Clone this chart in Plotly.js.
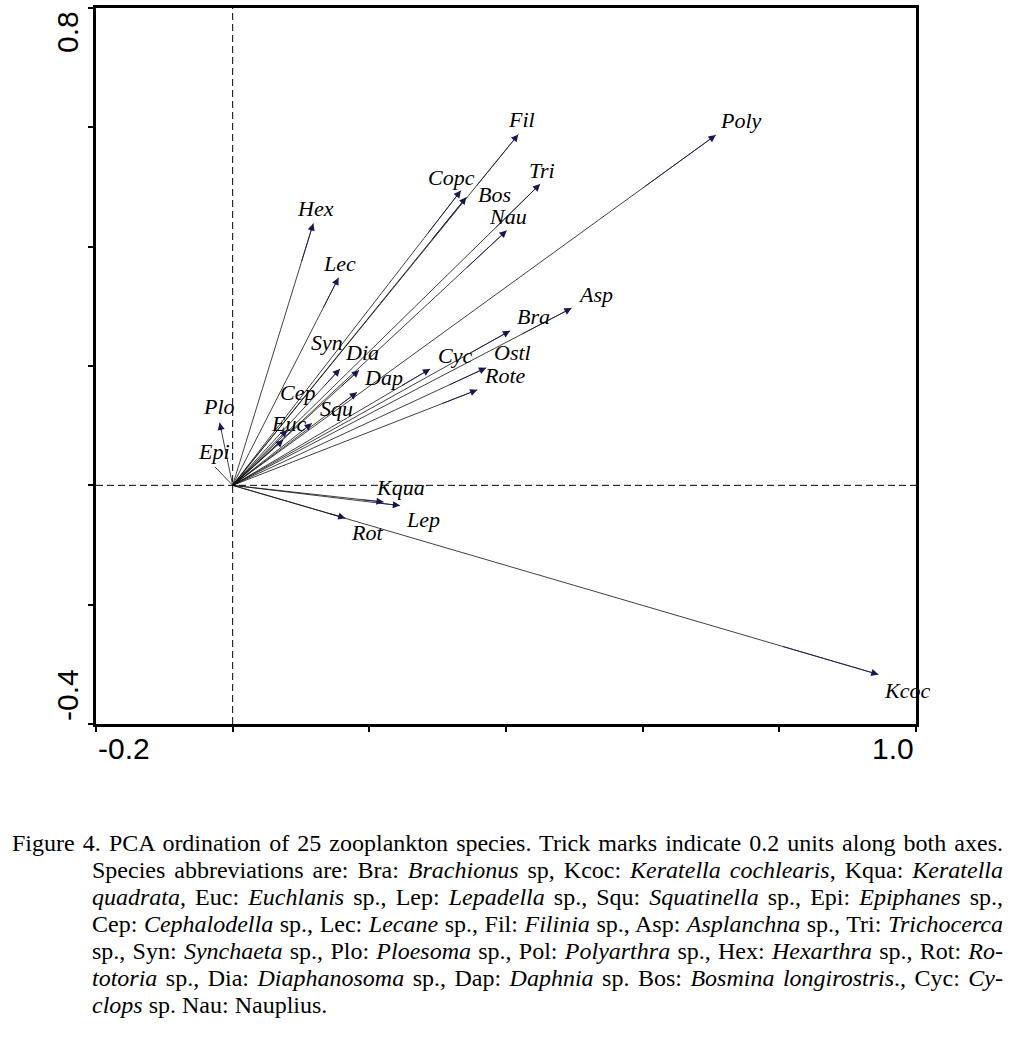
<!DOCTYPE html>
<html>
<head>
<meta charset="utf-8">
<script src="https://cdn.plot.ly/plotly-3.0.1.min.js"></script>
<style>
  html, body { margin: 0; padding: 0; background: #fff; }
  #chart { position: absolute; left: 0; top: 0; width: 1032px; height: 800px; }
  #caption { position: absolute; left: 12px; top: 830px; width: 991px;
    font-family: "Liberation Serif", "Times New Roman", serif; font-size: 24px; line-height: 27px; color: #000; }
  #caption div { text-align: justify; text-align-last: justify; white-space: nowrap; }
  #caption div.ind { padding-left: 80px; }
  #caption div.last { text-align-last: left; }
</style>
</head>
<body>
<div id="chart"></div>
<div id="caption">
  <div>Figure 4. PCA ordination of 25 zooplankton species. Trick marks indicate 0.2 units along both axes.</div>
  <div class="ind">Species abbreviations are: Bra: <i>Brachionus</i> sp, Kcoc: <i>Keratella cochlearis</i>, Kqua: <i>Keratella</i></div>
  <div class="ind"><i>quadrata</i>, Euc: <i>Euchlanis</i> sp., Lep: <i>Lepadella</i> sp., Squ: <i>Squatinella</i> sp., Epi: <i>Epiphanes</i> sp.,</div>
  <div class="ind">Cep: <i>Cephalodella</i> sp., Lec: <i>Lecane</i> sp., Fil: <i>Filinia</i> sp., Asp: <i>Asplanchna</i> sp., Tri: <i>Trichocerca</i></div>
  <div class="ind">sp., Syn: <i>Synchaeta</i> sp., Plo: <i>Ploesoma</i> sp., Pol: <i>Polyarthra</i> sp., Hex: <i>Hexarthra</i> sp., Rot: <i>Ro-</i></div>
  <div class="ind"><i>totoria</i> sp., Dia: <i>Diaphanosoma</i> sp., Dap: <i>Daphnia</i> sp. Bos: <i>Bosmina longirostris</i>., Cyc: <i>Cy-</i></div>
  <div class="ind last"><i>clops</i> sp. Nau: Nauplius.</div>
</div>
<script>
// ---- data (PCA loadings) ----
const species = ['Fil','Copc','Bos','Tri','Nau','Poly','Hex','Lec','Syn','Dia','Dap','Squ','Cep','Euc','Plo','Epi','Cyc','Bra','Asp','Ostl','Rote','Kqua','Lep','Rot','Kcoc'];
const axis1 = [0.418,0.334,0.342,0.450,0.401,0.707,0.118,0.155,0.157,0.185,0.182,0.116,0.080,0.074,-0.019,-0.026,0.289,0.406,0.496,0.371,0.358,0.221,0.245,0.165,0.945];
const axis2 = [0.588,0.494,0.483,0.505,0.427,0.587,0.439,0.348,0.195,0.193,0.156,0.104,0.093,0.076,0.105,0.031,0.195,0.259,0.297,0.197,0.160,-0.028,-0.034,-0.055,-0.317];
const xRange = [-0.2, 1.0];
const yRange = [-0.4, 0.8];
const tickStep = 0.2;
const xEndLabels = ['-0.2', '1.0'];
const yEndLabels = ['-0.4', '0.8'];

// ---- label placement (pixel offsets from arrow tips; style only) ----
const labelOffset = {
  Fil:[3,-15], Copc:[-9,-13], Bos:[28,-3], Tri:[2,-14], Nau:[1,-14], Poly:[25,-15],
  Hex:[2,-15], Lec:[1,-14], Syn:[-13,-26], Dia:[3,-18], Dap:[26,-15], Squ:[25,-15],
  Cep:[10,-37], Euc:[5,-16], Plo:[-1,-16], Epi:[-1,-15], Cyc:[25,-13], Bra:[23,-14],
  Asp:[24,-14], Ostl:[26,-15], Rote:[28,-14], Kqua:[17,-15], Lep:[23,14], Rot:[22,14], Kcoc:[29,16]
};

function ticks(r) { const t = []; for (let v = r[0]; v <= r[1] + 1e-9; v += tickStep) t.push(+v.toFixed(2)); return t; }

// lines from origin to each loading
const lx = [], ly = [];
species.forEach((s, i) => { lx.push(0, axis1[i], null); ly.push(0, axis2[i], null); });

const traces = [{
  type: 'scatter', mode: 'lines', x: lx, y: ly,
  line: { color: '#111', width: 0.8 }, hoverinfo: 'skip', showlegend: false
}];

const annotations = [];
species.forEach((s, i) => {
  // arrowhead
  annotations.push({
    x: axis1[i], y: axis2[i], xref: 'x', yref: 'y',
    ax: axis1[i] * 0.85, ay: axis2[i] * 0.85, axref: 'x', ayref: 'y',
    text: '', showarrow: true, arrowhead: 2, arrowsize: 1.8, arrowwidth: 0.8,
    arrowcolor: '#161650', standoff: 0
  });
  // label
  const o = labelOffset[s];
  annotations.push({
    x: axis1[i], y: axis2[i], xref: 'x', yref: 'y',
    text: '<i>' + s + '</i>', showarrow: false,
    xanchor: 'center', yanchor: 'middle', xshift: o[0], yshift: -o[1],
    font: { family: 'Liberation Serif, Times New Roman, serif', size: 22, color: '#000' }
  });
});

// end tick labels
const tickFont = { family: 'Liberation Sans, Arial, sans-serif', size: 30, color: '#000' };
annotations.push({ x: xRange[0], y: 0, xref: 'x', yref: 'paper', text: xEndLabels[0], showarrow: false,
  xanchor: 'left', yanchor: 'middle', yshift: -24, font: tickFont });
annotations.push({ x: xRange[1], y: 0, xref: 'x', yref: 'paper', text: xEndLabels[1], showarrow: false,
  xanchor: 'right', yanchor: 'middle', yshift: -24, font: tickFont });
annotations.push({ x: 0, y: yRange[0], xref: 'paper', yref: 'y', text: yEndLabels[0], showarrow: false,
  textangle: -90, xanchor: 'center', yanchor: 'middle', xshift: -29, yshift: 29, font: tickFont });
annotations.push({ x: 0, y: yRange[1], xref: 'paper', yref: 'y', text: yEndLabels[1], showarrow: false,
  textangle: -90, xanchor: 'center', yanchor: 'middle', xshift: -29, yshift: -24, font: tickFont });

const axisCommon = {
  showgrid: false, zeroline: false, showline: true, linewidth: 3, linecolor: '#000', mirror: true,
  ticks: 'outside', ticklen: 5, tickwidth: 2, tickcolor: '#000', showticklabels: false, fixedrange: true
};

const layout = {
  width: 1032, height: 800,
  margin: { l: 96, r: 116, t: 8, b: 76 },
  paper_bgcolor: '#fff', plot_bgcolor: '#fff',
  xaxis: Object.assign({}, axisCommon, { range: xRange, tickmode: 'array', tickvals: ticks(xRange) }),
  yaxis: Object.assign({}, axisCommon, { range: yRange, tickmode: 'array', tickvals: ticks(yRange) }),
  shapes: [
    { type: 'line', xref: 'x', yref: 'paper', x0: 0, x1: 0, y0: 0, y1: 1, line: { color: '#000', width: 1, dash: '7px,4px' } },
    { type: 'line', xref: 'paper', yref: 'y', x0: 0, x1: 1, y0: 0, y1: 0, line: { color: '#000', width: 1, dash: '7px,4px' } }
  ],
  annotations: annotations,
  showlegend: false
};

Plotly.newPlot('chart', traces, layout, { staticPlot: true, displayModeBar: false });
</script>
</body>
</html>
